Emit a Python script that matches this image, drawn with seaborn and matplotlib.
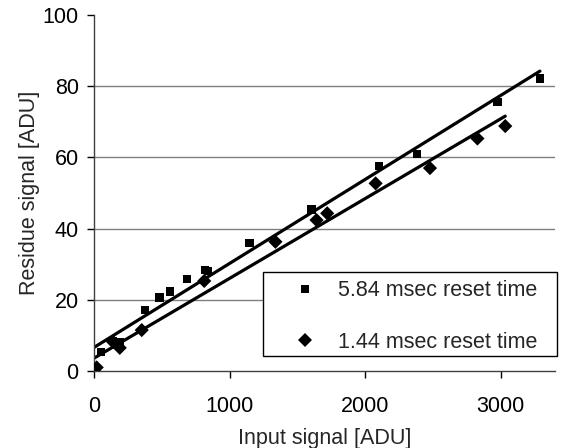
import numpy as np
import pandas as pd
import matplotlib
matplotlib.use("Agg")
import matplotlib.pyplot as plt
from matplotlib.patches import Rectangle
import seaborn as sns

# Data
sq_label = "5.84 msec reset time"
sq_x = [0, 50, 140, 190, 377, 483, 562, 685, 820, 840, 1148, 1604, 2102, 2380, 2976, 3289]
sq_y = [0.5, 5.3, 8.5, 8.0, 17.1, 20.6, 22.3, 25.8, 28.4, 28.1, 35.9, 45.4, 57.6, 61.0, 75.6, 82.2]

di_label = "1.44 msec reset time"
di_x = [0, 20, 140, 190, 352, 813, 1338, 1641, 1720, 2077, 2478, 2828, 3033]
di_y = [0.3, 1.0, 8.2, 6.5, 11.5, 25.3, 36.3, 42.4, 44.3, 52.7, 57.0, 65.3, 68.8]

x_ticks = [0, 1000, 2000, 3000]
y_ticks = [0, 20, 40, 60, 80, 100]
x_label = "Input signal [ADU]"
y_label = "Residue signal [ADU]"

df = pd.concat([
    pd.DataFrame({"x": sq_x, "y": sq_y, "series": sq_label}),
    pd.DataFrame({"x": di_x, "y": di_y, "series": di_label}),
], ignore_index=True)

sns.set_theme(style="white")
plt.rcParams["font.family"] = ["Liberation Sans", "DejaVu Sans"]

fig = plt.figure(figsize=(5.7, 4.48), dpi=100)
ax = fig.add_axes([94 / 570, 1 - 371 / 448, (555 - 94) / 570, (371 - 15) / 448])

fs = 15.5
# regression lines
for lab in [sq_label, di_label]:
    sub = df[df["series"] == lab]
    sns.regplot(data=sub, x="x", y="y", ax=ax, scatter=False, ci=None,
                color="black", line_kws={"linewidth": 2.3})

sns.scatterplot(data=df, x="x", y="y", style="series", hue="series",
                palette={sq_label: "black", di_label: "black"},
                markers={sq_label: "s", di_label: "D"},
                size="series", sizes={sq_label: 36, di_label: 52},
                edgecolor="black", linewidth=0, ax=ax, zorder=3)

ax.set_xlim(0, 3400)
ax.set_ylim(0, 100)
ax.set_xticks(x_ticks)
ax.set_yticks(y_ticks)
ax.tick_params(axis="both", labelsize=fs, colors="black", length=5, width=1,
               direction="out", bottom=True, left=True)
ax.tick_params(axis="x", pad=13)
ax.tick_params(axis="y", pad=6)
ax.set_xlabel(x_label, fontsize=fs, labelpad=8)
ax.set_ylabel(y_label, fontsize=fs, labelpad=2)

ax.yaxis.grid(True, color="#7f7f7f", linewidth=1)
ax.xaxis.grid(False)
ax.set_axisbelow(True)
for gl, t in zip(ax.get_ygridlines(), y_ticks):
    if t in (0, 100):
        gl.set_visible(False)

for s in ["top", "right"]:
    ax.spines[s].set_visible(False)
for s in ["left", "bottom"]:
    ax.spines[s].set_color("#404040")
    ax.spines[s].set_linewidth(1)

# legend frame (drawn as a box in axes coordinates)
W, H = 555 - 94, 371 - 15
box = Rectangle(((263 - 94) / W, (371 - 356) / H), (557 - 263) / W, (356 - 272) / H,
                transform=ax.transAxes, facecolor="white", edgecolor="black",
                linewidth=1, clip_on=False, zorder=4)
ax.add_patch(box)

handles, labels = ax.get_legend_handles_labels()
leg = ax.legend(handles, labels, loc="upper left",
                bbox_to_anchor=((283.5 - 94) / W, (371 - 280.5) / H),
                fontsize=fs, frameon=False, borderpad=0, labelspacing=1.4,
                handlelength=2.0, handletextpad=0.53, borderaxespad=0,
                markerscale=1.0)
leg.set_zorder(5)

fig.savefig("out.png", dpi=100)
